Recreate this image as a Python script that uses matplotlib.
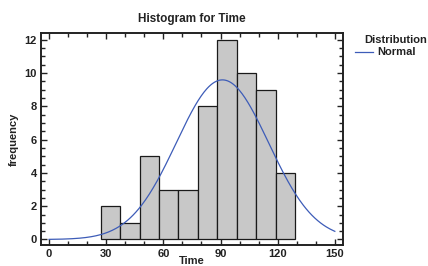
import numpy as np
import matplotlib
matplotlib.use("Agg")
import matplotlib.pyplot as plt
import matplotlib.ticker as tkr

plt.rcParams['font.family'] = ['Liberation Sans', 'DejaVu Sans']

# histogram bins
bin_left = 27.1
bin_width = 10.2
counts = [2, 1, 5, 3, 3, 8, 12, 10, 9, 4]
# fitted normal distribution
fit_mean = 91.0
fit_sd = 24.2

fig = plt.figure(figsize=(4.28, 2.66), dpi=100)
ax = fig.add_axes([0.096, 0.079, 0.705, 0.797])

edges = bin_left + bin_width * np.arange(len(counts))
ax.bar(edges, counts, width=bin_width, align='edge',
       color='#c8c8c8', edgecolor='#1a1a1a', linewidth=0.9)

xs = np.linspace(0, 150, 300)
n = sum(counts)
ys = n * bin_width / (fit_sd * np.sqrt(2 * np.pi)) * np.exp(-0.5 * ((xs - fit_mean) / fit_sd) ** 2)
ax.plot(xs, ys, color='#3d5cb8', linewidth=0.9)

ax.set_xlim(-4.2, 154.2)
ax.set_ylim(-0.33, 12.4)

ax.xaxis.set_major_locator(tkr.MultipleLocator(30))
ax.xaxis.set_minor_locator(tkr.MultipleLocator(10))
ax.yaxis.set_major_locator(tkr.MultipleLocator(2))
ax.yaxis.set_minor_locator(tkr.MultipleLocator(0.5))

ax.tick_params(which='both', direction='in', top=True, right=True,
               width=1.0, color='#222222')
ax.tick_params(which='major', length=4, labelsize=8, pad=3)
ax.tick_params(which='minor', length=3)
for lab in ax.get_xticklabels() + ax.get_yticklabels():
    lab.set_fontweight('bold')
    lab.set_color('#222222')

for sp in ax.spines.values():
    sp.set_linewidth(1.4)
    sp.set_color('#222222')

ax.set_title('Histogram for Time', fontsize=8.5, fontweight='bold',
             color='#222222', pad=8)
ax.set_xlabel('Time', fontsize=8, fontweight='bold', color='#222222', labelpad=-2)
ax.set_ylabel('frequency', fontsize=8, fontweight='bold', color='#222222', labelpad=4)

# legend on the right
fig.text(0.850, 0.850, 'Distribution', fontsize=8, fontweight='bold',
         color='#222222', va='center', ha='left')
fig.lines.append(plt.Line2D([0.829, 0.871], [0.803, 0.803], transform=fig.transFigure,
                            color='#3d5cb8', linewidth=0.9))
fig.text(0.881, 0.803, 'Normal', fontsize=8, fontweight='bold',
         color='#222222', va='center', ha='left')

fig.savefig('out.png', dpi=100)
